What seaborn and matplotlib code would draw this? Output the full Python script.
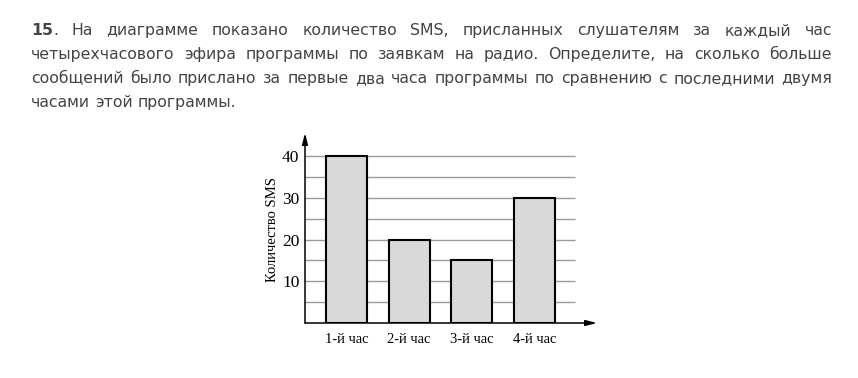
import matplotlib
matplotlib.use("Agg")
import matplotlib.pyplot as plt
import seaborn as sns
import pandas as pd

# ---- data ----
hours = ["1-й час", "2-й час", "3-й час", "4-й час"]
sms_counts = [40, 20, 15, 30]
y_ticks = [10, 20, 30, 40]
grid_levels = [5, 10, 15, 20, 25, 30, 35, 40]
y_label = "Количество SMS"
text_lines = [
    [("15", "bold"), (". На диаграмме показано количество SMS, присланных слушателям за каждый час", "normal")],
    [("четырехчасового эфира программы по заявкам на радио. Определите, на сколько больше", "normal")],
    [("сообщений было прислано за первые два часа программы по сравнению с последними двумя", "normal")],
    [("часами этой программы.", "normal")],
]

sns.set_theme(style="white")
plt.rcParams["font.family"] = ["DejaVu Sans"]

W, H = 858, 378
fig = plt.figure(figsize=(W / 100, H / 100), dpi=100)
fig.patch.set_facecolor("white")

# ---- justified paragraph ----
TEXT_COLOR = "#444444"
FS = 11.3
left_px, right_px = 31, 832
baselines = [35, 59, 83, 107]
renderer = fig.canvas.get_renderer()


def make_words(segments):
    words = []
    for txt, wt in segments:
        parts = txt.split(" ")
        for i, p in enumerate(parts):
            if p == "":
                continue
            if i == 0 and words and not txt.startswith(" "):
                words[-1].append((p, wt))
            else:
                words.append([(p, wt)])
    return words


def width_of(s, wt):
    t = fig.text(0, 0, s, fontsize=FS, fontweight=wt)
    w = t.get_window_extent(renderer).width
    t.remove()
    return w


space = width_of("a a", "normal") - 2 * width_of("a", "normal")
for li, (segs, base) in enumerate(zip(text_lines, baselines)):
    words = make_words(segs)
    widths = [[width_of(p, wt) for p, wt in w] for w in words]
    total = sum(sum(ws) for ws in widths)
    last = li == len(text_lines) - 1
    if not last and len(words) > 1:
        gap = (right_px - left_px - total) / (len(words) - 1)
    else:
        gap = space
    x = left_px
    yf = 1 - base / H
    for w, ws in zip(words, widths):
        for (p, wt), pw in zip(w, ws):
            fig.text(x / W, yf, p, fontsize=FS, fontweight=wt, color=TEXT_COLOR,
                     ha="left", va="baseline")
            x += pw
        x += gap

# ---- chart ----
ax = fig.add_axes([305 / W, 55 / H, (593 - 305) / W, (323 - 136) / H])
df = pd.DataFrame({"hour": hours, "sms": sms_counts})
sns.barplot(data=df, x="hour", y="sms", ax=ax, color="#d9d9d9", width=0.66,
            edgecolor="black", linewidth=1.5, saturation=1, zorder=3)

x_lo, x_hi = -0.666, 3.94
ax.set_xlim(x_lo, x_hi)
ax.set_ylim(0, 44.8)
ax.hlines(grid_levels, x_lo, 3.66, color="#9a9a9a", linewidth=1.0, zorder=1)

for s in ["top", "right", "left", "bottom"]:
    ax.spines[s].set_visible(False)

arrow = dict(arrowstyle="-|>,head_length=0.55,head_width=0.14", color="black",
             lw=1.1, shrinkA=0, shrinkB=0)
ax.annotate("", xy=(1.014, 0), xytext=(0, 0), xycoords="axes fraction",
            textcoords="axes fraction", arrowprops=arrow, annotation_clip=False)
ax.annotate("", xy=(0, 1.016), xytext=(0, 0), xycoords="axes fraction",
            textcoords="axes fraction", arrowprops=arrow, annotation_clip=False)

serif = ["Liberation Serif", "DejaVu Serif"]
ax.set_yticks(y_ticks)
ax.set_yticklabels([str(v) for v in y_ticks], family=serif, fontsize=12.5)
ax.set_xticks(range(len(hours)))
ax.set_xticklabels(hours, family=serif, fontsize=10.5)
ax.tick_params(axis="both", length=0, pad=4, colors="black")
ax.tick_params(axis="x", pad=7)
ax.set_xlabel("")
ax.set_ylabel(y_label, family=serif, fontsize=10.5, color="black")
ax.yaxis.set_label_coords(-0.09, 0.5)
ax.patch.set_alpha(0)

fig.savefig("out.png", dpi=100, facecolor="white")
